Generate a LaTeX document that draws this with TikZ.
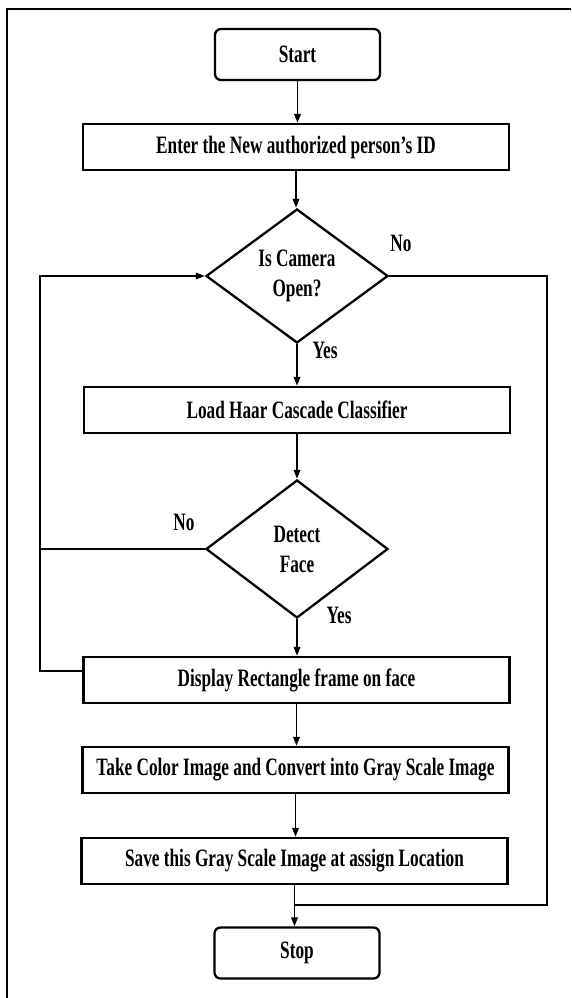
\documentclass[tikz,border=0pt]{standalone}
\usepackage{fontspec}
\setmainfont{Liberation Serif}[FakeStretch=0.69]
\usetikzlibrary{shapes.geometric,arrows.meta}
\begin{document}
\begin{tikzpicture}[x=1pt,y=-1pt,
  every node/.style={font=\fontsize{25}{30}\selectfont\bfseries, inner sep=0pt},
  proc/.style={draw, line width=2.3pt, minimum width=426pt, minimum height=46pt},
  term/.style={draw, line width=2.3pt, rounded corners=6pt, minimum width=165pt, minimum height=51pt},
  dec/.style={draw, diamond, line width=2.3pt, minimum width=182pt, align=center},
  conn/.style={line width=1.9pt},
  arr/.style={conn, -{Triangle[length=9pt,width=6.5pt]}}]
\useasboundingbox (0,0) rectangle (571,998);
\draw[line width=2.3pt] (7,998) -- (7,9) -- (571,9);

\node[term] (start) at (297.5,54.5) {Start};
\node[proc] (enter) at (296,147) {Enter the New authorized person’s ID};
\node[dec, minimum height=134pt] (d1) at (297,276) {Is Camera\\Open?};
\node[proc] (load) at (297,410) {Load Haar Cascade Classifier};
\node[dec, minimum height=138pt] (d2) at (297,549) {Detect\\Face};
\node[proc] (disp) at (296.5,680) {Display Rectangle frame on face};
\node[proc] (take) at (295.5,770) {Take Color Image and Convert into Gray Scale Image};
\node[proc] (save) at (294.5,861) {Save this Gray Scale Image at assign Location};
\node[term] (stop) at (297,953) {Stop};

\node (no1) at (401,243) {No};
\node (yes1) at (325,350) {Yes};
\node (no2) at (184,522) {No};
\node (yes2) at (339,615) {Yes};

\coordinate (L) at (40,671);
\coordinate (R) at (547,905);

\draw[arr] (start.south) -- (start.south |- enter.north);
\draw[arr] (enter.south) -- (enter.south |- d1.north);
\draw[arr] (d1.south) -- (d1.south |- load.north);
\draw[arr] (load.south) -- (load.south |- d2.north);
\draw[arr] (d2.south) -- (d2.south |- disp.north);
\draw[arr] (disp.south) -- (disp.south |- take.north);
\draw[arr] (take.south) -- (take.south |- save.north);
\draw[arr] (save.south) -- (save.south |- stop.north);

\draw[arr] ([yshift=9pt]disp.west) -- (L) |- (d1.west);
\draw[conn] (d2.west) -- (d2.west -| L);
\draw[conn] (d1.east) -| (R) -- (R -| save.south);
\end{tikzpicture}
\end{document}
